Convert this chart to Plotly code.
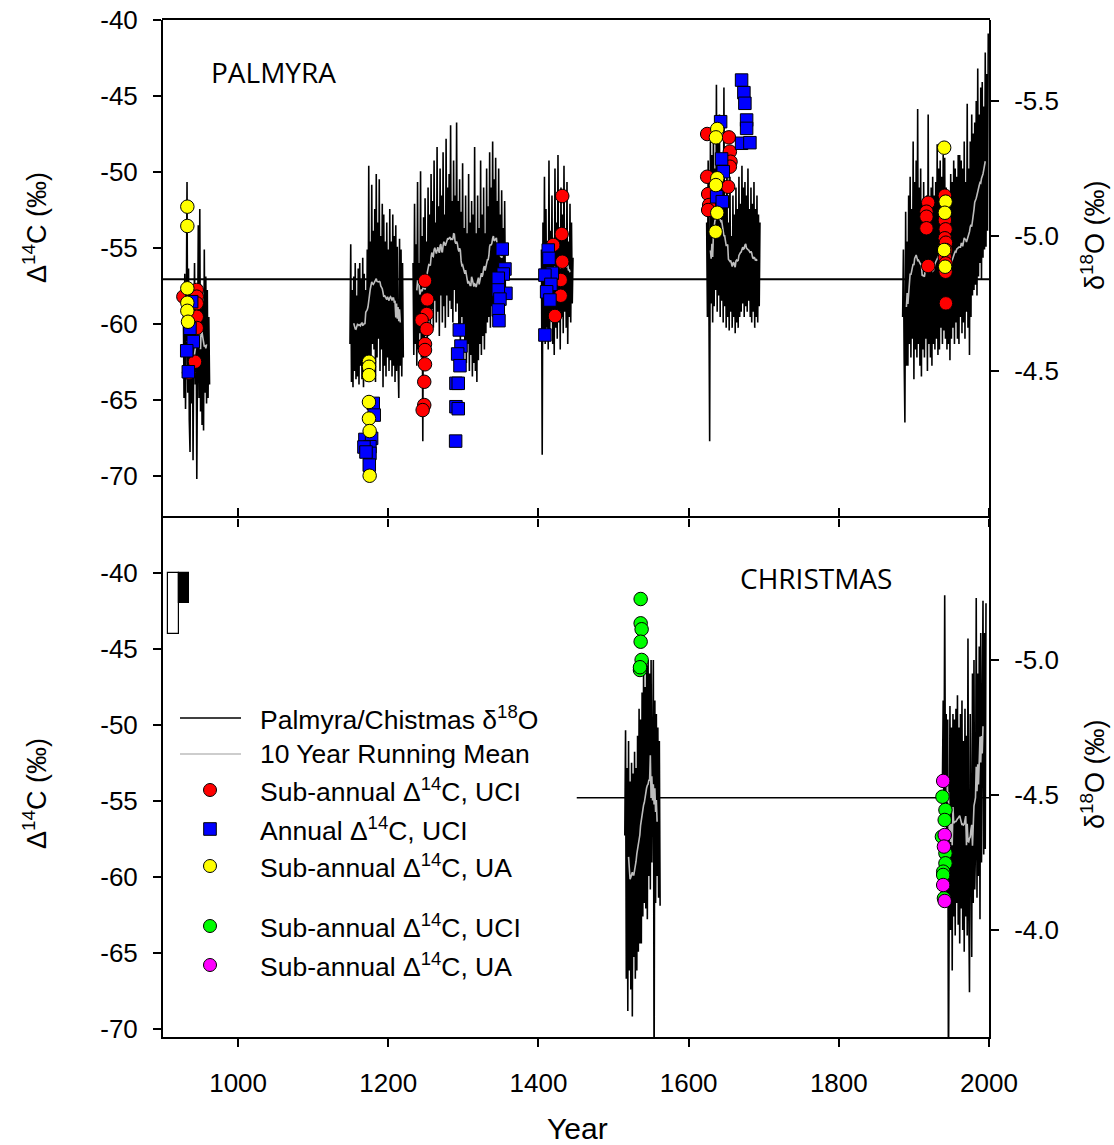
import numpy as np
import pandas as pd
import plotly.graph_objects as go

# ---------------- data ----------------
# Palmyra coral δ18O (‰), annual values; each block starts at the year in its name
pal_d18o_0927 = [-4.78, -4.40, -4.86, -4.36, -4.70, -5.20, -4.42, -4.88, -4.32, -4.20, -4.75, -4.38,
                 -4.82, -4.17, -4.62, -4.90, -4.45, -4.78, -4.10, -4.66, -5.04, -4.40, -5.10, -4.35,
                 -4.82, -4.30, -4.76, -4.28, -4.95, -4.42, -4.85, -4.38, -4.80, -4.40, -4.70, -4.45]
pal_d18o_1149 = [-4.60, -4.97, -4.46, -4.80, -4.44, -4.85, -4.50, -4.90, -4.47, -4.78,
                 -4.48, -4.88, -4.45, -4.90, -4.52, -4.84, -4.47, -4.92, -4.44, -4.86,
                 -4.50, -4.80, -4.46, -4.95, -4.52, -5.26, -4.50, -4.98, -4.55, -5.19,
                 -4.60, -5.02, -4.58, -5.10, -4.46, -5.23, -4.55, -5.05, -4.62, -5.21,
                 -4.50, -5.00, -4.58, -5.12, -4.44, -5.08, -4.52, -4.98, -4.48, -5.05,
                 -4.55, -4.95, -4.50, -5.10, -4.54, -4.98, -4.48, -5.08, -4.52, -5.00,
                 -4.46, -5.04, -4.50, -4.96, -4.55, -4.40, -4.99, -4.52, -4.95, -4.48,
                 -4.90, -4.55]
pal_d18o_1233 = [-4.90, -4.56, -5.12, -4.60, -4.97, -4.52, -5.20, -4.58, -4.90, -4.64,
                 -5.24, -4.55, -5.00, -4.24, -5.07, -4.60, -5.14, -4.68, -4.98, -4.58,
                 -5.18, -4.70, -5.08, -4.64, -5.23, -4.73, -5.13, -4.66, -5.28, -4.76,
                 -5.05, -4.68, -5.33, -4.72, -5.11, -4.63, -5.25, -4.78, -5.15, -4.68,
                 -5.31, -4.74, -5.08, -4.66, -5.36, -4.78, -5.18, -4.70, -5.23, -4.76,
                 -5.41, -4.73, -5.13, -4.68, -5.28, -4.80, -5.15, -4.72, -5.42, -4.75,
                 -5.13, -4.66, -5.21, -4.60, -5.09, -4.70, -5.27, -4.64, -5.03, -4.58,
                 -5.15, -4.53, -5.01, -4.60, -5.23, -4.50, -5.05, -4.56, -5.13, -4.48,
                 -5.08, -4.53, -5.33, -4.50, -5.01, -4.46, -5.15, -4.54, -5.03, -4.60,
                 -5.28, -4.56, -5.08, -4.63, -5.18, -4.58, -5.01, -4.64, -5.25, -4.68,
                 -5.11, -4.70, -5.31, -4.66, -5.18, -4.74, -5.35, -4.72, -5.21, -4.76,
                 -5.29, -4.78, -5.13, -4.70, -5.25, -4.74, -5.08, -4.68, -5.17, -4.72,
                 -5.03, -4.70, -5.13, -4.76]
pal_d18o_1404 = [-4.95, -4.19, -5.05, -4.62, -5.22, -4.60, -5.10, -4.66, -4.98, -4.58,
                 -5.28, -4.64, -5.02, -4.70, -5.15, -4.60, -4.95, -4.56, -5.25, -4.66,
                 -5.05, -4.62, -5.30, -4.68, -5.00, -4.58, -5.18, -4.70, -5.08, -4.64,
                 -5.26, -4.72, -5.02, -4.66, -5.20, -4.60, -4.98, -4.70, -5.12, -4.68,
                 -5.05, -4.75, -4.92]
pal_d18o_1624 = [-5.05, -4.70, -5.28, -4.72, -4.24, -5.35, -4.75, -5.30, -4.68, -5.40,
                 -4.74, -5.25, -4.80, -5.56, -4.72, -5.38, -4.78, -5.45, -4.70, -5.30,
                 -4.76, -5.22, -4.68, -5.55, -4.74, -5.15, -4.66, -5.25, -4.70, -5.05,
                 -4.65, -5.22, -4.72, -5.00, -4.66, -5.15, -4.70, -5.08, -4.64, -5.18,
                 -4.68, -5.10, -4.66, -5.22, -4.70, -5.12, -4.72, -5.26, -4.75, -5.18,
                 -4.70, -5.20, -4.74, -5.15, -4.72, -5.25, -4.76, -5.10, -4.70, -5.18,
                 -4.68, -5.12, -4.72, -5.20, -4.66, -5.10, -4.70, -5.15, -4.68, -5.08,
                 -4.74, -5.05]
pal_d18o_1885 = [-4.70, -4.95, -4.55, -4.31, -5.09, -4.52, -4.98, -4.52, -5.15, -4.60,
                 -5.22, -4.55, -5.10, -4.62, -5.35, -4.47, -5.20, -4.58, -5.28, -4.55,
                 -5.47, -4.60, -5.18, -4.52, -5.25, -4.48, -5.12, -4.58, -5.20, -4.55,
                 -5.05, -4.62, -5.15, -4.50, -5.45, -4.60, -5.10, -4.55, -5.18, -4.52,
                 -5.22, -4.60, -5.15, -4.58, -5.20, -4.62, -5.34, -4.56, -5.25, -4.58,
                 -5.28, -4.66, -5.22, -4.60, -5.30, -4.65, -5.29, -4.62, -5.18, -4.58,
                 -5.10, -4.60, -5.15, -4.54, -5.23, -4.62, -5.20, -4.66, -5.28, -4.60,
                 -5.25, -4.68, -5.22, -4.62, -5.30, -4.60, -5.30, -4.70, -5.28, -4.64,
                 -5.25, -4.68, -5.35, -4.62, -5.20, -4.72, -5.49, -4.66, -5.25, -4.56,
                 -5.35, -4.70, -5.45, -4.78, -5.38, -4.80, -5.42, -4.82, -5.50, -4.78,
                 -5.62, -4.85, -5.45, -4.90, -5.55, -4.84, -5.57, -4.92, -5.48, -4.95,
                 -5.68, -4.96, -5.60, -5.02, -5.75]

# Christmas Island coral δ18O (‰), annual values
chr_d18o_1515 = [-4.35, -4.74, -3.82, -4.60, -3.70, -4.70, -3.85, -4.55, -3.78, -4.62,
                 -3.68, -4.58, -3.90, -4.66, -3.82, -4.60, -3.85, -4.72, -3.92, -4.82,
                 -3.95, -4.78, -3.95, -4.88, -4.05, -4.96, -4.10, -4.90, -4.08, -4.98,
                 -4.04, -5.00, -4.20, -4.95, -4.15, -5.00, -4.25, -4.90, -5.00, -3.40,
                 -4.85, -4.10, -4.80, -4.20, -4.75, -4.12, -4.70, -4.09]
chr_d18o_1938 = [-4.55, -4.85, -4.40, -5.24, -4.50, -4.80, -4.10, -4.78, -3.40, -4.70,
                 -4.83, -4.00, -4.75, -3.85, -4.80, -4.05, -4.78, -3.98, -4.82, -4.10,
                 -4.87, -4.02, -4.75, -3.95, -4.80, -4.08, -4.85, -4.00, -4.70, -3.92,
                 -4.82, -4.05, -4.72, -3.98, -5.08, -4.10, -3.77, -4.80, -4.05, -3.90,
                 -4.95, -4.10, -5.00, -4.15, -4.30, -5.23, -4.12, -4.95, -4.20, -5.05,
                 -4.04, -5.10, -4.25, -5.00, -5.22, -4.28, -5.10, -4.30, -5.21]

pal_segments = [(927, pal_d18o_0927), (1149, pal_d18o_1149), (1233, pal_d18o_1233),
                (1404, pal_d18o_1404), (1624, pal_d18o_1624), (1885, pal_d18o_1885)]
chr_segments = [(1515, chr_d18o_1515), (1938, chr_d18o_1938)]

# Mean δ18O reference lines (‰)
pal_d18o_mean = -4.84
chr_d18o_mean = -4.49
chr_mean_start = 1451

# Palmyra Δ14C (‰)
pal_uci_sub_year = [927.1, 944.9, 944.9, 944.9, 944.9, 944.9, 942.6, 934.6,
                    1248.9, 1251.9, 1251.1, 1244.4, 1251.1, 1248.9, 1248.9, 1248.9, 1247.9, 1247.9, 1245.8,
                    1431.7, 1430.9, 1419.7, 1431.7, 1429.6, 1429.6, 1422.0,
                    1624.7, 1653.6, 1654.9, 1655.8, 1654.9, 1624.7, 1652.6, 1626.0, 1627.3, 1626.0,
                    1919.0, 1916.7, 1916.7, 1916.7, 1919.0, 1941.2, 1941.2, 1942.2, 1941.2, 1942.6,
                    1942.2, 1941.2, 1942.2, 1942.2, 1942.6]
pal_uci_sub_d14c = [-58.2, -57.76, -58.2, -58.64, -59.52, -60.26, -62.48, -63.2,
                    -57.15, -58.38, -59.34, -59.74, -60.33, -61.32, -61.71, -62.65, -63.8, -65.33, -65.66,
                    -51.58, -54.08, -54.8, -55.9, -57.1, -58.14, -59.47,
                    -47.5, -47.72, -48.66, -49.32, -49.65, -50.31, -50.97, -51.45, -52.17, -52.5,
                    -52.02, -52.61, -52.94, -53.7, -56.18, -51.56, -53.16, -53.77, -54.36, -54.65,
                    -55.13, -55.61, -56.01, -56.56, -58.64]

pal_uci_ann_year = [938.2, 935.9, 940.3, 931.6, 933.7,
                    1180.0, 1181.3, 1168.9, 1177.8, 1175.6, 1175.6, 1174.7, 1167.6, 1170.3,
                    1294.6, 1296.8, 1292.4, 1295.5, 1290.1, 1293.2, 1290.1, 1293.2, 1289.7,
                    1351.8, 1355.4, 1353.1, 1346.5, 1356.7, 1346.5, 1348.7, 1346.5, 1347.4,
                    1413.0, 1414.0, 1418.4, 1408.6, 1416.6, 1410.9, 1415.3, 1408.6,
                    1670.5, 1673.6, 1674.9, 1677.2, 1677.2, 1670.5, 1681.6, 1642.6, 1643.9, 1646.1,
                    1637.3, 1644.8]
pal_uci_ann_d14c = [-58.53, -60.28, -61.16, -61.76, -63.14,
                    -65.22, -65.99, -67.59, -67.52, -68.07, -68.51, -69.28, -68.09, -68.42,
                    -60.39, -61.45, -61.97, -62.74, -63.9, -63.9, -65.44, -65.57, -67.7,
                    -55.07, -56.38, -56.71, -56.99, -57.98, -57.76, -58.36, -59.08, -59.78,
                    -55.13, -55.68, -56.66, -56.78, -57.39, -57.88, -58.42, -60.72,
                    -43.95, -44.78, -45.48, -46.58, -47.13, -48.11, -48.07, -46.69, -49.14, -49.98,
                    -51.63, -51.95]

pal_ua_sub_year = [932.4, 932.4, 932.4, 932.4, 932.4, 933.3,
                   1174.3, 1174.3, 1174.3, 1174.3, 1174.3, 1175.2, 1175.2,
                   1638.1, 1636.3, 1638.1, 1636.3, 1638.1, 1635.9,
                   1940.3, 1942.2, 1941.2, 1940.3, 1941.6]
pal_ua_sub_d14c = [-52.28, -53.55, -57.65, -58.6, -59.13, -59.85,
                   -62.48, -62.81, -63.36, -65.13, -66.22, -67.04, -69.98,
                   -47.17, -47.72, -50.41, -50.86, -52.68, -53.93,
                   -48.4, -51.95, -52.68, -55.13, -56.23]

# Christmas Island Δ14C (‰)
chr_uci_sub_year = [1536.1, 1536.1, 1537.4, 1536.1, 1537.4, 1535.2, 1535.2,
                    1938.0, 1942.0, 1941.0, 1937.3, 1942.0, 1942.0, 1939.0, 1939.0, 1940.0]
chr_uci_sub_d14c = [-41.71, -43.31, -43.7, -44.52, -45.72, -46.38, -46.2,
                    -54.72, -55.59, -56.25, -57.35, -58.44, -59.1, -59.65, -59.87, -61.4]
chr_ua_sub_year = [1939.0, 1941.0, 1940.0, 1939.0, 1941.0]
chr_ua_sub_d14c = [-53.68, -57.24, -58.0, -60.53, -61.58]

# Analytical uncertainty bars (‰), drawn down from -40
unc_bar_year = [914.0, 928.0]
unc_bar_width = [14.6, 13.3]
unc_bar_size = [-4.0, -2.0]
unc_bar_base = -40

# Axis ticks
year_ticks = [1000, 1200, 1400, 1600, 1800, 2000]
d14c_ticks = [-70, -65, -60, -55, -50, -45, -40]
pal_d18o_ticks = [-5.5, -5.0, -4.5]
chr_d18o_ticks = [-5.0, -4.5, -4.0]

# Legend entries
legend_labels = ["Palmyra/Chistmas δ<sup>18</sup>O", "10 Year Running Mean",
                 "Sub-annual Δ<sup>14</sup>C, UCI", "Annual Δ<sup>14</sup>C, UCI",
                 "Sub-annual Δ<sup>14</sup>C, UA",
                 "Sub-annual Δ<sup>14</sup>C, UCI", "Sub-annual Δ<sup>14</sup>C, UA"]

# ---------------- layout geometry (pixels) ----------------
W, H = 1114, 1145
PL, PR, PT, PB = 163, 989, 20, 1037
SPLIT = 518
split_frac = (PB - SPLIT) / (PB - PT)


def px_x(px):
    return (px - PL) / (PR - PL)


def px_y(py):
    return (PB - py) / (PB - PT)


def build_series(segments):
    xs, ys, mx, my = [], [], [], []
    for start, vals in segments:
        yrs = np.arange(start, start + len(vals))
        s = pd.Series(vals, dtype=float)
        rm = s.rolling(10, center=True, min_periods=10).mean()
        xs += list(yrs) + [None]
        ys += list(s) + [None]
        mx += list(yrs) + [None]
        my += [None if pd.isna(v) else float(v) for v in rm] + [None]
    return xs, ys, mx, my


FONT = "Liberation Sans, Arial, sans-serif"
BLACK_LW = 1.6
GREY = "#bdbdbd"

fig = go.Figure()

# Palmyra panel
px_, py_, pmx, pmy = build_series(pal_segments)
fig.add_trace(go.Scatter(x=px_, y=py_, mode="lines", line=dict(color="black", width=BLACK_LW),
                         xaxis="x", yaxis="y", showlegend=False, hoverinfo="skip"))
fig.add_trace(go.Scatter(x=pmx, y=pmy, mode="lines", line=dict(color=GREY, width=1.6),
                         xaxis="x", yaxis="y", showlegend=False, hoverinfo="skip"))

MK = 13.5
mline = dict(color="black", width=1)
fig.add_trace(go.Scatter(x=pal_uci_sub_year, y=pal_uci_sub_d14c, mode="markers",
                         marker=dict(symbol="circle", size=MK, color="#ff0000", line=mline),
                         xaxis="x", yaxis="y2", showlegend=False))
fig.add_trace(go.Scatter(x=pal_uci_ann_year, y=pal_uci_ann_d14c, mode="markers",
                         marker=dict(symbol="square", size=MK - 1, color="#0000ff", line=mline),
                         xaxis="x", yaxis="y2", showlegend=False))
fig.add_trace(go.Scatter(x=pal_ua_sub_year, y=pal_ua_sub_d14c, mode="markers",
                         marker=dict(symbol="circle", size=MK, color="#ffff00", line=mline),
                         xaxis="x", yaxis="y2", showlegend=False))

# Christmas panel
cx_, cy_, cmx, cmy = build_series(chr_segments)
fig.add_trace(go.Scatter(x=cx_, y=cy_, mode="lines", line=dict(color="black", width=BLACK_LW),
                         xaxis="x2", yaxis="y3", showlegend=False, hoverinfo="skip"))
fig.add_trace(go.Scatter(x=cmx, y=cmy, mode="lines", line=dict(color=GREY, width=1.6),
                         xaxis="x2", yaxis="y3", showlegend=False, hoverinfo="skip"))
fig.add_trace(go.Bar(x=unc_bar_year, y=unc_bar_size, base=unc_bar_base, width=unc_bar_width,
                     marker=dict(color=["white", "black"], line=dict(color="black", width=1.2)),
                     xaxis="x2", yaxis="y4", showlegend=False))
fig.add_trace(go.Scatter(x=chr_uci_sub_year, y=chr_uci_sub_d14c, mode="markers",
                         marker=dict(symbol="circle", size=MK, color="#00ff00", line=mline),
                         xaxis="x2", yaxis="y4", showlegend=False))
fig.add_trace(go.Scatter(x=chr_ua_sub_year, y=chr_ua_sub_d14c, mode="markers",
                         marker=dict(symbol="circle", size=MK, color="#ff00ff", line=mline),
                         xaxis="x2", yaxis="y4", showlegend=False))

tickfont = dict(family=FONT, size=26, color="black")
axis_common = dict(showline=True, linecolor="black", linewidth=2, showgrid=False, zeroline=False,
                   ticks="outside", ticklen=8, tickwidth=1.5, tickcolor="black", tickfont=tickfont,
                   automargin=False)


def hy(vals, fmt):
    return [fmt.format(v) for v in vals]


fig.update_layout(
    width=W, height=H, autosize=False,
    margin=dict(l=PL, r=W - PR, t=PT, b=H - PB, pad=0),
    paper_bgcolor="white", plot_bgcolor="white",
    bargap=0, barmode="overlay",
    # upper panel: ticks only along the shared edge; its frame line comes from the lower panel
    xaxis=dict(axis_common, showline=False, domain=[0, 1], anchor="y", range=[900, 2000],
               tickvals=year_ticks, showticklabels=False),
    yaxis=dict(axis_common, domain=[split_frac, 1], anchor="x", side="right",
               range=[-3.956, -5.8], tickvals=pal_d18o_ticks, ticktext=hy(pal_d18o_ticks, "{:.1f}"),
               ticklabelstandoff=10),
    yaxis2=dict(axis_common, overlaying="y", anchor="x", side="left",
                range=[-72.76, -40], tickvals=d14c_ticks, ticktext=hy(d14c_ticks, "{:d}"),
                ticklabelstandoff=10),
    xaxis2=dict(axis_common, domain=[0, 1], anchor="y3", range=[900, 2000], mirror="ticks",
                tickvals=year_ticks, ticktext=[str(v) for v in year_ticks], ticklabelstandoff=14),
    yaxis3=dict(axis_common, domain=[0, split_frac], anchor="x2", side="right",
                range=[-3.604, -5.526], tickvals=chr_d18o_ticks, ticktext=hy(chr_d18o_ticks, "{:.1f}"),
                ticklabelstandoff=10),
    yaxis4=dict(axis_common, overlaying="y3", anchor="x2", side="left",
                range=[-70.53, -36.38], tickvals=d14c_ticks, ticktext=hy(d14c_ticks, "{:d}"),
                ticklabelstandoff=10),
)

shapes = [
    # top edge of the upper frame
    dict(type="line", xref="paper", yref="paper", x0=px_x(PL - 1), x1=px_x(PR + 1), y0=px_y(PT - 1),
         y1=px_y(PT - 1), line=dict(color="black", width=2)),
    dict(type="line", xref="x", yref="y", x0=900, x1=2000, y0=pal_d18o_mean, y1=pal_d18o_mean,
         line=dict(color="black", width=1.8), layer="below"),
    dict(type="line", xref="x2", yref="y3", x0=chr_mean_start, x1=2000, y0=chr_d18o_mean,
         y1=chr_d18o_mean, line=dict(color="black", width=1.3), layer="below"),
]

# Legend drawn in the lower panel
row_y = [718, 754, 790, 829, 866, 926, 965]
sw_x0, sw_x1, sym_x, txt_x = 180, 241, 210, 258
shapes.append(dict(type="line", xref="paper", yref="paper", x0=px_x(sw_x0), x1=px_x(sw_x1),
                   y0=px_y(row_y[0]), y1=px_y(row_y[0]), line=dict(color="black", width=1.5)))
shapes.append(dict(type="line", xref="paper", yref="paper", x0=px_x(sw_x0), x1=px_x(sw_x1),
                   y0=px_y(row_y[1]), y1=px_y(row_y[1]), line=dict(color=GREY, width=1.6)))
sym_specs = [(2, "circle", "#ff0000"), (3, "rect", "#0000ff"), (4, "circle", "#ffff00"),
             (5, "circle", "#00ff00"), (6, "circle", "#ff00ff")]
for idx, kind, col in sym_specs:
    r = 6.5 if kind == "circle" else 6.3
    shapes.append(dict(type=kind, xref="paper", yref="paper", xsizemode="pixel", ysizemode="pixel",
                       xanchor=px_x(sym_x), yanchor=px_y(row_y[idx]), x0=-r, x1=r, y0=-r, y1=r,
                       fillcolor=col, line=dict(color="black", width=1)))

annotations = []
for lab, yy in zip(legend_labels, row_y):
    annotations.append(dict(text=lab, xref="paper", yref="paper", x=px_x(txt_x), y=px_y(yy),
                            xanchor="left", yanchor="middle", showarrow=False,
                            font=dict(family=FONT, size=26.5, color="black")))

title_font = dict(family=FONT, size=27, color="black")
annotations += [
    dict(text="Δ<sup>14</sup>C (‰)", xref="paper", yref="paper", x=px_x(35), y=px_y(228),
         textangle=-90, showarrow=False, font=title_font, xanchor="center", yanchor="middle"),
    dict(text="Δ<sup>14</sup>C (‰)", xref="paper", yref="paper", x=px_x(35), y=px_y(794),
         textangle=-90, showarrow=False, font=title_font, xanchor="center", yanchor="middle"),
    dict(text="δ<sup>18</sup>O (‰)", xref="paper", yref="paper", x=px_x(1093), y=px_y(235),
         textangle=-90, showarrow=False, font=title_font, xanchor="center", yanchor="middle"),
    dict(text="δ<sup>18</sup>O (‰)", xref="paper", yref="paper", x=px_x(1093), y=px_y(774),
         textangle=-90, showarrow=False, font=title_font, xanchor="center", yanchor="middle"),
    dict(text="Year", xref="paper", yref="paper", x=px_x(577), y=px_y(1128),
         showarrow=False, font=dict(family=FONT, size=30, color="black"),
         xanchor="center", yanchor="middle"),
    dict(text="PALMYRA", xref="paper", yref="paper", x=px_x(209), y=px_y(72),
         showarrow=False, font=dict(family="Open Sans", size=28, color="black"),
         xanchor="left", yanchor="middle"),
    dict(text="CHRISTMAS", xref="paper", yref="paper", x=px_x(738), y=px_y(578),
         showarrow=False, font=dict(family="Open Sans", size=28, color="black"),
         xanchor="left", yanchor="middle"),
]

fig.update_layout(shapes=shapes, annotations=annotations)
fig.write_html("out.html")
